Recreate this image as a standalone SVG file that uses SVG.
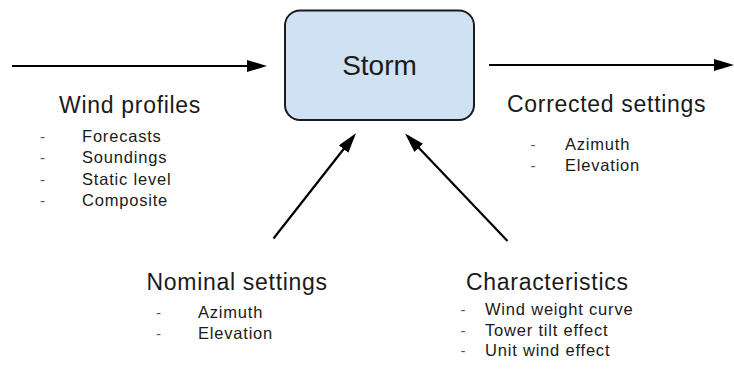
<svg xmlns="http://www.w3.org/2000/svg" width="734" height="370" viewBox="0 0 734 370">
  <style>
    text { font-family: "Liberation Sans", Arial, sans-serif; fill: #1a1a1a; }
    .title { font-size: 28px; text-anchor: middle; }
    .head { font-size: 23px; letter-spacing: 0.7px; }
    .item { font-size: 16.5px; letter-spacing: 0.8px; }
    .dash { font-size: 15px; fill: #555; }
    .box { fill: #cfe2f3; stroke: #1a1a1a; stroke-width: 2; }
    .wire { fill: none; stroke: #000; stroke-width: 2.2; marker-end: url(#head); }
  </style>
  <defs>
    <marker id="head" markerUnits="userSpaceOnUse" markerWidth="20" markerHeight="12" refX="16" refY="6" orient="auto">
      <path d="M0,0 L20,6 L0,12 Z" fill="#000"/>
    </marker>
  </defs>

  <!-- connectors -->
  <g id="connectors">
    <line class="wire" x1="12" y1="66" x2="263" y2="66"/>
    <line class="wire" x1="489" y1="65" x2="730" y2="65"/>
    <line class="wire" x1="273.5" y1="238.5" x2="353.5" y2="136.5"/>
    <line class="wire" x1="507.5" y1="241" x2="407.8" y2="136.3"/>
  </g>

  <!-- central process -->
  <g id="storm">
    <rect class="box" x="285" y="10.5" width="189" height="109.5" rx="15" ry="15"/>
    <text class="title" x="379.5" y="75">Storm</text>
  </g>

  <!-- inputs -->
  <g id="wind-profiles">
    <text class="head" x="59" y="113">Wind profiles</text>
    <text class="dash" x="40" y="142">-</text>
    <text class="item" x="82" y="142">Forecasts</text>
    <text class="dash" x="40" y="163">-</text>
    <text class="item" x="82" y="163">Soundings</text>
    <text class="dash" x="40" y="184.5">-</text>
    <text class="item" x="82" y="184.5">Static level</text>
    <text class="dash" x="40" y="205.5">-</text>
    <text class="item" x="82" y="205.5">Composite</text>
  </g>

  <g id="nominal-settings">
    <text class="head" x="146.5" y="290">Nominal settings</text>
    <text class="dash" x="156" y="318">-</text>
    <text class="item" x="198" y="318">Azimuth</text>
    <text class="dash" x="156" y="339">-</text>
    <text class="item" x="198" y="339">Elevation</text>
  </g>

  <g id="characteristics">
    <text class="head" x="466" y="289.5">Characteristics</text>
    <text class="dash" x="460.5" y="315">-</text>
    <text class="item" x="485" y="315">Wind weight curve</text>
    <text class="dash" x="460.5" y="335.5">-</text>
    <text class="item" x="485" y="335.5">Tower tilt effect</text>
    <text class="dash" x="460.5" y="356">-</text>
    <text class="item" x="485" y="356">Unit wind effect</text>
  </g>

  <!-- output -->
  <g id="corrected-settings">
    <text class="head" x="507" y="112">Corrected settings</text>
    <text class="dash" x="530.5" y="150">-</text>
    <text class="item" x="565" y="150">Azimuth</text>
    <text class="dash" x="530.5" y="170.5">-</text>
    <text class="item" x="565" y="170.5">Elevation</text>
  </g>
</svg>
